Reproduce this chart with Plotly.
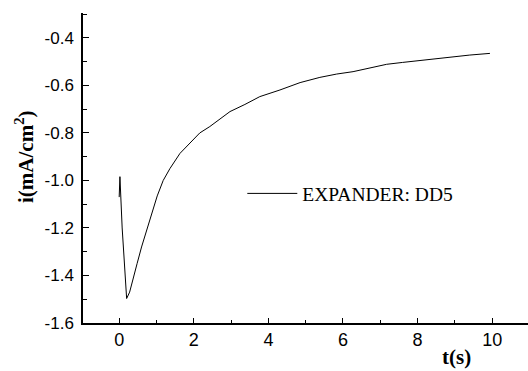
import plotly.graph_objects as go

t_s = [0.0, 0.02, 0.08, 0.14, 0.20, 0.28, 0.37, 0.48, 0.60, 0.73, 0.87, 1.02, 1.18, 1.36,
       1.63, 1.90, 2.16, 2.43, 2.70, 2.97, 3.37, 3.77, 4.31, 4.85, 5.38, 5.83, 6.27, 6.70,
       7.17, 7.60, 8.06, 8.50, 8.95, 9.40, 9.94]
i_ma = [-1.07, -0.984, -1.20, -1.37, -1.497, -1.47, -1.42, -1.35, -1.28, -1.21, -1.14,
        -1.065, -1.00, -0.95, -0.886, -0.84, -0.80, -0.773, -0.74, -0.71, -0.68, -0.647,
        -0.619, -0.588, -0.566, -0.552, -0.542, -0.527, -0.511, -0.503, -0.495, -0.487,
        -0.479, -0.472, -0.465]

x_ticks = [0, 2, 4, 6, 8, 10]
y_ticks = [-1.6, -1.4, -1.2, -1.0, -0.8, -0.6, -0.4]
y_labels = ["-1.6", "-1.4", "-1.2", "-1.0", "-0.8", "-0.6", "-0.4"]

fig = go.Figure()
fig.add_trace(go.Scatter(x=t_s, y=i_ma, mode="lines", name="EXPANDER: DD5",
                         line=dict(color="black", width=1)))

fig.update_layout(
    width=528, height=371,
    margin=dict(l=83, r=0, t=13, b=48),
    paper_bgcolor="white", plot_bgcolor="white",
    showlegend=True,
    legend=dict(x=0.358, y=0.417, xanchor="left", yanchor="middle",
                bgcolor="rgba(0,0,0,0)", itemwidth=50,
                font=dict(family="Liberation Serif", size=19.5, color="black")),
    annotations=[
        dict(text="<b>i(mA/cm<sup>2</sup>)</b>", textangle=-90, xref="paper", yref="paper",
             x=(24 - 83) / 445, y=(323 - 157) / 310, xanchor="center", yanchor="middle",
             showarrow=False, font=dict(family="Liberation Serif", size=21, color="black")),
        dict(text="<b>t(s)</b>", xref="paper", yref="paper",
             x=(456 - 83) / 445, y=(323 - 357) / 310, xanchor="center", yanchor="middle",
             showarrow=False, font=dict(family="Liberation Serif", size=21, color="black")),
    ],
)
fig.update_xaxes(range=[-0.97, 10.96], tickvals=x_ticks, ticks="inside", ticklen=5,
                 tickwidth=1, tickcolor="black", showgrid=False, zeroline=False,
                 showline=True, linecolor="black", linewidth=1.5,
                 minor=dict(dtick=1, tick0=0, ticks="inside", ticklen=3, tickcolor="black"),
                 tickfont=dict(family="Liberation Sans", size=18, color="black"))
fig.update_yaxes(range=[-1.6, -0.295], tickvals=y_ticks, ticktext=y_labels, ticks="inside",
                 ticklen=6, tickwidth=1, tickcolor="black", showgrid=False, zeroline=False,
                 showline=True, linecolor="black", linewidth=1.5, ticklabelstandoff=4,
                 minor=dict(dtick=0.1, tick0=-1.6, ticks="inside", ticklen=4, tickcolor="black"),
                 tickfont=dict(family="Liberation Sans", size=17, color="black"))

fig.write_html("out.html")
